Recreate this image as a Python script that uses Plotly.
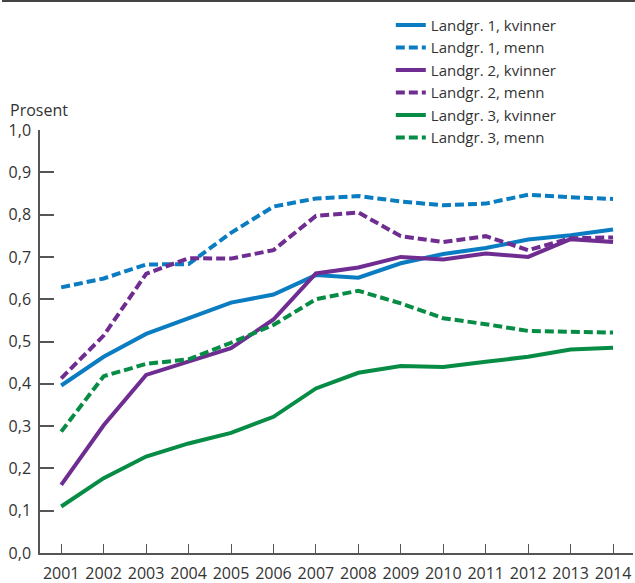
#!/usr/bin/env python
# coding: utf-8

import plotly.graph_objects as go

# ## data (share, 0-1)
years = [2001, 2002, 2003, 2004, 2005, 2006, 2007, 2008, 2009, 2010, 2011, 2012, 2013, 2014]

landgr1_kvinner = [0.396, 0.464, 0.518, 0.555, 0.592, 0.611, 0.657, 0.651, 0.685, 0.707, 0.721, 0.741, 0.751, 0.765]
landgr1_menn = [0.628, 0.649, 0.682, 0.683, 0.757, 0.819, 0.838, 0.844, 0.831, 0.822, 0.826, 0.847, 0.841, 0.837]
landgr2_kvinner = [0.161, 0.302, 0.421, 0.452, 0.484, 0.552, 0.661, 0.675, 0.700, 0.694, 0.708, 0.700, 0.742, 0.735]
landgr2_menn = [0.413, 0.514, 0.660, 0.697, 0.696, 0.716, 0.797, 0.805, 0.749, 0.735, 0.749, 0.716, 0.744, 0.746]
landgr3_kvinner = [0.110, 0.177, 0.228, 0.259, 0.284, 0.322, 0.389, 0.426, 0.442, 0.440, 0.452, 0.464, 0.481, 0.485]
landgr3_menn = [0.287, 0.418, 0.447, 0.458, 0.497, 0.539, 0.600, 0.620, 0.590, 0.555, 0.541, 0.525, 0.523, 0.521]

series_names = ['Landgr. 1, kvinner', 'Landgr. 1, menn',
                'Landgr. 2, kvinner', 'Landgr. 2, menn',
                'Landgr. 3, kvinner', 'Landgr. 3, menn']

y_tickvals = [0.0, 0.1, 0.2, 0.3, 0.4, 0.5, 0.6, 0.7, 0.8, 0.9, 1.0]
y_ticktext = ['0,0', '0,1', '0,2', '0,3', '0,4', '0,5', '0,6', '0,7', '0,8', '0,9', '1,0']

BLUE = '#0a7cc1'
PURPLE = '#6f2c91'
GREEN = '#078c45'
AXIS = '#555555'
TEXT = '#333333'
FONT = 'Open Sans'


def create_chart():
    series = [landgr1_kvinner, landgr1_menn, landgr2_kvinner,
              landgr2_menn, landgr3_kvinner, landgr3_menn]
    colors = [BLUE, BLUE, PURPLE, PURPLE, GREEN, GREEN]
    dashes = ['solid', '9px,4px'] * 3

    fig = go.Figure()
    for name, vals, col, dash in zip(series_names, series, colors, dashes):
        fig.add_trace(go.Scatter(x=years, y=vals, name=name, mode='lines',
                                 line=dict(color=col, width=4, dash=dash)))

    fig.update_layout(
        template='none',
        width=635, height=583,
        margin=dict(l=40, r=2, t=130, b=30, autoexpand=False),
        plot_bgcolor='white', paper_bgcolor='white',
        font=dict(family=FONT, size=16, color=TEXT),
        showlegend=True,
        legend=dict(x=0.5916, y=1.2865, xanchor='left', yanchor='top',
                    bgcolor='rgba(0,0,0,0)', font=dict(size=15, color=TEXT),
                    tracegroupgap=0, itemwidth=30),
    )

    fig.update_xaxes(range=[2000.5, 2014.47], tickvals=years,
                     ticks='inside', ticklen=9, tickcolor=AXIS, tickwidth=1,
                     showline=True, linecolor=AXIS, linewidth=1.5,
                     showgrid=False, zeroline=False, automargin=False,
                     ticklabelstandoff=5,
                     tickfont=dict(size=16, color=TEXT))
    fig.update_yaxes(range=[0, 1.0], tickvals=y_tickvals, ticktext=y_ticktext,
                     ticks='inside', ticklen=14, tickcolor=AXIS, tickwidth=1.5,
                     showline=True, linecolor=AXIS, linewidth=1.5,
                     showgrid=False, zeroline=False, automargin=False,
                     ticklabelstandoff=4,
                     tickfont=dict(size=16, color=TEXT))

    # y-axis unit label
    fig.add_annotation(text='Prosent', xref='paper', yref='paper',
                       x=-0.054, y=1.047, xanchor='left', yanchor='middle',
                       showarrow=False, font=dict(size=16, color=TEXT))

    return fig


# page tweaks: no default body margin, plus the dark rule across the top
POST_JS = (
    "document.body.style.margin='0';"
    "var rule=document.createElement('div');"
    "rule.style.cssText='position:absolute;left:2px;top:0px;width:633px;"
    "height:2px;background:#444444;z-index:10;pointer-events:none';"
    "document.body.appendChild(rule);"
)


if __name__ == '__main__':
    fig = create_chart()
    fig.write_html('out.html', config={'displayModeBar': False},
                   post_script=POST_JS)
